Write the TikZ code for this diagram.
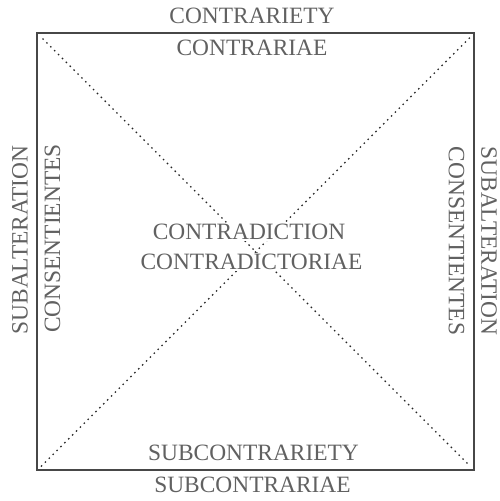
\documentclass[tikz,border=0pt]{standalone}
\usepackage{fontspec}
\setmainfont{Liberation Serif}
\begin{document}
\begin{tikzpicture}[x=1pt,y=-1pt,
  lbl/.style={text=black!62, font=\fontsize{23.4}{26}\selectfont, inner sep=1pt},
  cut/.style={lbl, fill=white},
  frame/.style={draw=black!72, line width=1.5pt},
  diag/.style={draw=black!85, line width=1.4pt, dash pattern=on 1.5pt off 4pt}]
\useasboundingbox (0,0) rectangle (499,501);
\coordinate (TL) at (37,33);
\coordinate (BR) at (474,470);
\coordinate (d1) at (42.5,38.5);
\coordinate (d2) at (469.5,465.5);
\coordinate (d3) at (41,466.5);
\coordinate (d4) at (470,37.5);
\draw[diag] (d1) -- (d2);
\draw[diag] (d3) -- (d4);
\draw[frame] (TL) rectangle (BR);
\node[lbl] (contrariety) at (252,15.5) {CONTRARIETY};
\node[cut] (contrariae) at (252,48) {CONTRARIAE};
\node[cut] (contradiction) at (249,232) {CONTRADICTION};
\node[cut] (contradictoriae) at (251.5,262) {CONTRADICTORIAE};
\node[cut] (subcontrariety) at (253.5,452.5) {SUBCONTRARIETY};
\node[lbl] (subcontrariae) at (252.5,485) {SUBCONTRARIAE};
\node[lbl, rotate=90] (subaltL) at (20,240) {SUBALTERATION};
\node[cut, rotate=90] (consL) at (52.5,238.5) {CONSENTIENTES};
\node[cut, rotate=-90] (consR) at (456.5,241) {CONSENTIENTES};
\node[lbl, rotate=-90] (subaltR) at (489,241) {SUBALTERATION};
\end{tikzpicture}
\end{document}
